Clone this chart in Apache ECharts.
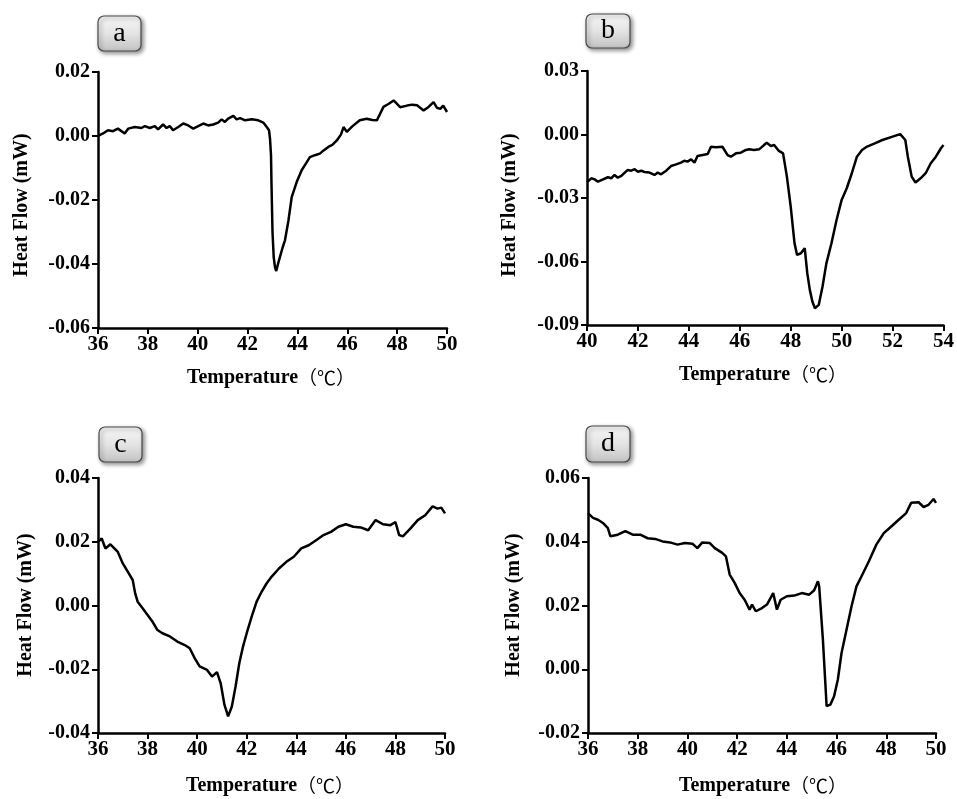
<!DOCTYPE html>
<html>
<head>
<meta charset="utf-8">
<script src="https://cdn.jsdelivr.net/npm/echarts@6/dist/echarts.min.js"></script>
<style>
html,body{margin:0;padding:0;background:#fff;}
#chart{width:957px;height:799px;}
</style>
</head>
<body>
<div id="chart"></div>
<script>
// ---- Panel a ----
var tempA = [36.00,36.20,36.40,36.60,36.80,37.07,37.21,37.48,37.74,37.88,38.08,38.28,38.41,38.61,38.75,38.88,39.01,39.22,39.42,39.62,39.82,40.02,40.22,40.42,40.62,40.82,40.96,41.09,41.22,41.43,41.56,41.70,41.90,42.17,42.43,42.63,42.77,42.86,42.90,42.94,42.96,43.00,43.05,43.10,43.15,43.22,43.30,43.40,43.50,43.64,43.77,43.97,44.17,44.35,44.50,44.70,44.90,45.05,45.24,45.40,45.58,45.75,45.85,45.98,46.20,46.50,46.78,47.00,47.19,47.45,47.65,47.86,48.12,48.40,48.60,48.80,49.06,49.25,49.46,49.60,49.73,49.85,50.00];
var heatA = [0.0000,0.0008,0.0018,0.0015,0.0023,0.0008,0.0023,0.0028,0.0025,0.0031,0.0025,0.0031,0.0021,0.0036,0.0025,0.0031,0.0018,0.0028,0.0039,0.0033,0.0023,0.0031,0.0039,0.0033,0.0036,0.0042,0.0052,0.0044,0.0054,0.0063,0.0052,0.0056,0.0049,0.0052,0.0049,0.0042,0.0028,0.0018,-0.0008,-0.0060,-0.0150,-0.0300,-0.0380,-0.0410,-0.0422,-0.0400,-0.0378,-0.0350,-0.0326,-0.0264,-0.0191,-0.0144,-0.0107,-0.0085,-0.0066,-0.0060,-0.0055,-0.0045,-0.0034,-0.0028,-0.0014,0.0005,0.0028,0.0013,0.0030,0.0049,0.0054,0.0050,0.0049,0.0091,0.0100,0.0111,0.0090,0.0095,0.0098,0.0096,0.0080,0.0090,0.0106,0.0088,0.0085,0.0095,0.0075];

// ---- Panel b ----
var tempB = [40.00,40.04,40.17,40.30,40.43,40.63,40.82,40.95,41.08,41.21,41.35,41.48,41.60,41.74,41.87,42.00,42.13,42.26,42.45,42.65,42.78,42.91,43.11,43.30,43.50,43.69,43.82,43.95,44.09,44.22,44.34,44.54,44.74,44.87,45.06,45.32,45.52,45.65,45.85,46.04,46.24,46.37,46.56,46.76,46.95,47.06,47.22,47.35,47.52,47.70,47.85,48.00,48.15,48.25,48.40,48.55,48.65,48.75,48.85,48.95,49.10,49.25,49.40,49.60,49.80,50.00,50.20,50.40,50.60,50.80,51.00,51.30,51.60,52.00,52.30,52.50,52.60,52.75,52.90,53.10,53.30,53.50,53.70,53.90,54.00];
var heatB = [-0.0225,-0.0223,-0.0207,-0.0212,-0.0223,-0.0212,-0.0202,-0.0207,-0.0191,-0.0204,-0.0196,-0.0180,-0.0168,-0.0171,-0.0164,-0.0176,-0.0171,-0.0177,-0.0180,-0.0191,-0.0180,-0.0188,-0.0171,-0.0149,-0.0141,-0.0133,-0.0124,-0.0128,-0.0117,-0.0133,-0.0102,-0.0097,-0.0092,-0.0058,-0.0060,-0.0058,-0.0097,-0.0105,-0.0089,-0.0086,-0.0073,-0.0070,-0.0073,-0.0070,-0.0050,-0.0039,-0.0054,-0.0050,-0.0076,-0.0089,-0.0199,-0.0341,-0.0514,-0.0569,-0.0561,-0.0537,-0.0655,-0.0734,-0.0789,-0.0821,-0.0805,-0.0718,-0.0609,-0.0514,-0.0404,-0.0309,-0.0254,-0.0183,-0.0105,-0.0073,-0.0057,-0.0042,-0.0026,-0.0010,0.0002,-0.0026,-0.0105,-0.0199,-0.0227,-0.0207,-0.0183,-0.0136,-0.0105,-0.0065,-0.0050];

// ---- Panel c ----
var tempC = [36.00,36.15,36.30,36.50,36.60,36.80,37.00,37.20,37.40,37.50,37.60,37.80,38.00,38.20,38.40,38.60,38.90,39.20,39.50,39.70,39.90,40.10,40.40,40.60,40.80,40.95,41.10,41.25,41.40,41.55,41.70,41.85,42.00,42.20,42.40,42.60,42.80,43.00,43.30,43.60,43.90,44.20,44.50,44.80,45.10,45.40,45.70,46.00,46.30,46.60,46.90,47.20,47.50,47.80,48.00,48.15,48.30,48.60,48.90,49.20,49.50,49.70,49.85,50.00];
var heatC = [0.0200,0.0210,0.0179,0.0192,0.0184,0.0168,0.0132,0.0106,0.0080,0.0038,0.0012,-0.0009,-0.0030,-0.0051,-0.0077,-0.0087,-0.0097,-0.0113,-0.0124,-0.0134,-0.0165,-0.0191,-0.0202,-0.0223,-0.0209,-0.0244,-0.0311,-0.0348,-0.0317,-0.0254,-0.0181,-0.0129,-0.0087,-0.0035,0.0012,0.0043,0.0069,0.0090,0.0116,0.0137,0.0153,0.0179,0.0189,0.0205,0.0221,0.0231,0.0247,0.0255,0.0247,0.0245,0.0236,0.0268,0.0255,0.0252,0.0262,0.0221,0.0217,0.0241,0.0268,0.0283,0.0311,0.0304,0.0307,0.0289];

// ---- Panel d ----
var tempD = [36.00,36.20,36.40,36.60,36.80,36.90,37.20,37.50,37.80,38.10,38.40,38.70,39.00,39.30,39.60,39.90,40.20,40.40,40.60,40.90,41.10,41.40,41.55,41.70,41.90,42.10,42.30,42.50,42.60,42.75,43.00,43.20,43.45,43.60,43.75,44.00,44.30,44.60,44.90,45.10,45.25,45.30,45.45,45.60,45.75,45.90,46.05,46.20,46.40,46.60,46.80,47.00,47.30,47.60,47.90,48.20,48.50,48.80,49.00,49.30,49.50,49.70,49.90,50.00];
var heatD = [0.0490,0.0475,0.0469,0.0459,0.0443,0.0417,0.0422,0.0433,0.0422,0.0422,0.0411,0.0409,0.0401,0.0398,0.0391,0.0396,0.0394,0.0380,0.0398,0.0396,0.0380,0.0365,0.0354,0.0297,0.0271,0.0239,0.0218,0.0187,0.0203,0.0182,0.0192,0.0203,0.0239,0.0187,0.0218,0.0229,0.0231,0.0239,0.0234,0.0248,0.0276,0.0260,0.0093,-0.0116,-0.0111,-0.0085,-0.0033,0.0051,0.0124,0.0197,0.0260,0.0291,0.0339,0.0391,0.0427,0.0448,0.0469,0.0490,0.0522,0.0524,0.0509,0.0516,0.0534,0.0522];

// axis settings per panel
var xMinA = 36, xMaxA = 50, yMinA = -0.06, yMaxA = 0.02, yStepA = 0.02;
var xMinB = 40, xMaxB = 54, yMinB = -0.09, yMaxB = 0.03, yStepB = 0.03;
var xMinC = 36, xMaxC = 50, yMinC = -0.04, yMaxC = 0.04, yStepC = 0.02;
var xMinD = 36, xMaxD = 50, yMinD = -0.02, yMaxD = 0.06, yStepD = 0.02;
var panelLabels = ['a','b','c','d'];
var yTitle = 'Heat Flow (mW)';
var xTitleMain = 'Temperature';
var xTitleUnit = '（℃）';

function zip(xs, ys){ var out=[]; for(var i=0;i<xs.length;i++) out.push([xs[i], ys[i]]); return out; }

var serifB = '"Liberation Serif","Times New Roman","DejaVu Serif",serif';

var grids = [
  {left:98, top:72, width:349, height:256},
  {left:587, top:71, width:358, height:254},
  {left:98, top:478, width:347, height:255},
  {left:588, top:478, width:348, height:255}
];
var xr = [[xMinA,xMaxA],[xMinB,xMaxB],[xMinC,xMaxC],[xMinD,xMaxD]];
var yr = [[yMinA,yMaxA,yStepA],[yMinB,yMaxB,yStepB],[yMinC,yMaxC,yStepC],[yMinD,yMaxD,yStepD]];
var seriesData = [zip(tempA,heatA), zip(tempB,heatB), zip(tempC,heatC), zip(tempD,heatD)];

var axisLine = {show:true, onZero:false, lineStyle:{color:'#000', width:2.5}};
var xAxes = [], yAxes = [], series = [];
for (var i=0;i<4;i++){
  xAxes.push({
    type:'value', gridIndex:i, min:xr[i][0], max:xr[i][1], interval:2,
    axisLine:axisLine, axisTick:{show:true, length:6, lineStyle:{color:'#000', width:2}},
    splitLine:{show:false},
    axisLabel:{color:'#000', fontFamily:serifB, fontWeight:'bold', fontSize:21, margin:6}
  });
  yAxes.push({
    type:'value', gridIndex:i, min:yr[i][0], max:yr[i][1], interval:yr[i][2],
    axisLine:axisLine, axisTick:{show:true, length:6, lineStyle:{color:'#000', width:2}},
    splitLine:{show:false},
    axisLabel:{color:'#000', fontFamily:serifB, fontWeight:'bold', fontSize:20, margin:8,
      formatter:function(v){ if(Math.abs(v)<1e-9) v=0; return v.toFixed(2); }}
  });
  series.push({
    type:'line', xAxisIndex:i, yAxisIndex:i, data:seriesData[i],
    showSymbol:false, symbol:'none', smooth:false,
    lineStyle:{color:'#000', width:2.5}
  });
}

var boxes = [
  {x:98, y:16, w:43, h:35},
  {x:586, y:14, w:44, h:34},
  {x:99, y:427, w:43, h:35},
  {x:586, y:426, w:44, h:36}
];
var yTitlePos = [[22,205],[510,205],[26,605],[514,605]];
var xTitlePos = [[271,378],[763,375],[270,786],[763,786]];
var graphics = [];
for (var j=0;j<4;j++){
  var b = boxes[j];
  graphics.push({
    type:'rect', shape:{x:b.x, y:b.y, width:b.w, height:b.h, r:6},
    style:{
      fill:new echarts.graphic.LinearGradient(0,0,0,1,[{offset:0,color:'#f7f7f7'},{offset:0.5,color:'#e4e4e4'},{offset:1,color:'#c2c2c2'}]),
      stroke:'#4a4a4a', lineWidth:1.2,
      shadowBlur:4, shadowOffsetX:2, shadowOffsetY:2, shadowColor:'rgba(0,0,0,0.45)'
    }
  });
  graphics.push({
    type:'text', x:b.x + b.w/2, y:b.y + b.h/2,
    style:{text:panelLabels[j], fill:'#000', font:'normal 28px "Liberation Serif","Times New Roman",serif', align:'center', verticalAlign:'middle'}
  });
  graphics.push({
    type:'text', x:yTitlePos[j][0], y:yTitlePos[j][1], rotation:Math.PI/2,
    style:{text:yTitle, fill:'#000', font:'bold 20px ' + serifB, align:'center', verticalAlign:'middle'}
  });
  graphics.push({
    type:'text', x:xTitlePos[j][0], y:xTitlePos[j][1],
    style:{
      text:'{m|' + xTitleMain + '}{u|' + xTitleUnit + '}',
      align:'center', verticalAlign:'middle',
      rich:{
        m:{fill:'#000', fontFamily:serifB, fontWeight:'bold', fontSize:20},
        u:{fill:'#000', fontFamily:'"Noto Sans CJK SC","Noto Sans CJK JP",sans-serif', fontWeight:'normal', fontSize:19}
      }
    }
  });
}

var chart = echarts.init(document.getElementById('chart'), null, {renderer:'canvas'});
chart.setOption({
  backgroundColor:'#fff',
  animation:false,
  grid:grids,
  xAxis:xAxes,
  yAxis:yAxes,
  series:series,
  graphic:graphics
});
</script>
</body>
</html>
